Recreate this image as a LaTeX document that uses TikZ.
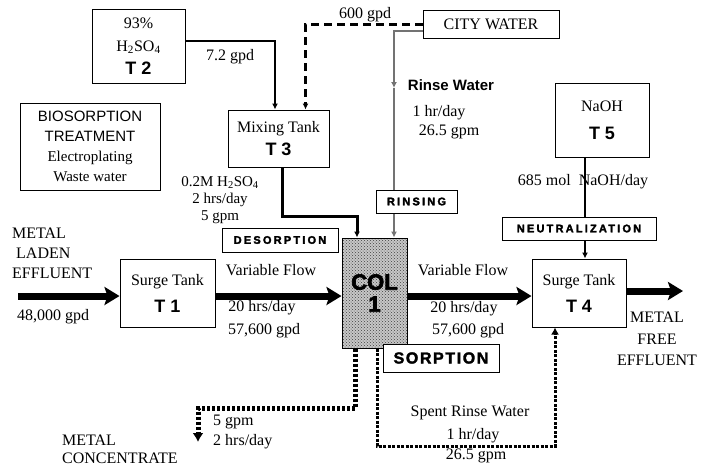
\documentclass[tikz,border=0pt]{standalone}
\usepackage{fontspec}
\setmainfont{Liberation Serif}
\setsansfont{Liberation Sans}
\newfontfamily\spacedsans[LetterSpace=20,FakeBold=2.5]{Liberation Sans Bold}
\newfontfamily\sorpfont[LetterSpace=10,FakeBold=2]{Liberation Sans Bold}
\newfontfamily\colfont[FakeBold=3]{Liberation Sans Bold}
\usetikzlibrary{arrows.meta,patterns,backgrounds}
\newcommand\tlab[1]{{\sffamily\bfseries\fontsize{18}{20}\selectfont #1}}
\tikzset{
  box/.style={draw, line width=1pt, fill=white, inner sep=0pt, align=center, font=\fontsize{16}{18}\selectfont},
  txt/.style={inner sep=0pt, font=\fontsize{16}{18}\selectfont},
  tag/.style={draw, line width=1pt, fill=white, inner sep=0pt, font=\spacedsans\fontsize{11}{12}\selectfont},
  smalltip/.style={-{Latex[length=6pt,width=6pt]}},
  bigflow/.style={line width=7pt, -{Stealth[length=15pt,width=18pt,inset=3pt]}},
  citydash/.style={line width=3pt, dash pattern=on 8pt off 5pt, smalltip},
  greyline/.style={line width=2pt, draw=black!55, -{Latex[length=6pt,width=6pt]}},
  concdot/.style={line width=5pt, dash pattern=on 3pt off 2pt, -{Latex[length=9pt,width=11pt]}},
  spentdot/.style={line width=3pt, dash pattern=on 3pt off 1.5pt, -{Latex[length=7pt,width=8pt]}},
}
\begin{document}
\begin{tikzpicture}[x=1pt,y=-1pt]
\useasboundingbox (0,0) rectangle (701,467);

% boxes
\node[box, minimum width=93pt, minimum height=74pt, font=\fontsize{16}{23}\selectfont] (T2) at (138.5,46) {93\%\\H\textsubscript{2}SO\textsubscript{4}\\\tlab{T 2}};
\node[box, minimum width=101pt, minimum height=57pt] (T3) at (278.5,138.5) {Mixing Tank\\[5pt]\tlab{T 3}};
\node[box, minimum width=136pt, minimum height=28pt] (CW) at (491,24) {CITY WATER};
\node[box, minimum width=140pt, minimum height=87pt, font=\fontsize{15}{20}\selectfont] (BIO) at (90,146.5) {\sffamily BIOSORPTION\\\sffamily TREATMENT\\Electroplating\\Waste water};
\node[box, minimum width=94pt, minimum height=74pt] (T5) at (602,120) {NaOH\\[10pt]\tlab{T 5}};
\node[tag, minimum width=154pt, minimum height=23pt] (NEU) at (579,228.5) {NEUTRALIZATION};
\node[tag, minimum width=81pt, minimum height=23pt] (RIN) at (416.5,201.5) {RINSING};
\node[tag, minimum width=116pt, minimum height=24pt] (DES) at (280,240) {DESORPTION};
\node[box, minimum width=95pt, minimum height=68pt] (T1) at (167.5,293) {Surge Tank\\[9pt]\tlab{T 1}};
\node[draw, line width=1pt, preaction={fill=black!22}, pattern=crosshatch dots, pattern color=black!75,
      minimum width=65pt, minimum height=110pt, inner sep=0pt, align=center,
      font=\colfont\fontsize{22}{22}\selectfont] (COL) at (374.5,293) {COL\\1};
\node[draw, line width=1pt, fill=white, inner sep=0pt, minimum width=116pt, minimum height=28pt,
      font=\sorpfont\fontsize{16}{18}\selectfont] (SOR) at (441,358) {SORPTION};

\node[box, minimum width=94pt, minimum height=68pt] (T4) at (579,293) {Surge Tank\\[9pt]\tlab{T 4}};

% labels
\node[txt] (l600) at (365,15) {600 gpd};
\node[txt] (l72) at (230,57) {7.2 gpd};
\node[txt, font=\sffamily\bfseries\fontsize{15}{17}\selectfont] (rw) at (451,85) {Rinse Water};
\node[txt] (rw1) at (439,113) {1 hr/day};
\node[txt] (rw2) at (449,132) {26.5 gpm};
\node[txt] (naoh) at (583,182) {685 mol\ \ NaOH/day};
\node[txt, align=center, font=\fontsize{15}{17}\selectfont] (acid) at (220,200) {0.2M H\textsubscript{2}SO\textsubscript{4}\\2 hrs/day\\5 gpm};
\node[txt, align=left, anchor=west, font=\fontsize{16}{20}\selectfont] (mle) at (12,253) {METAL\\\ LADEN\\EFFLUENT};
\node[txt] (l48) at (53,317) {48,000 gpd};
\node[txt] (vf1) at (271,270) {Variable Flow};
\node[txt] (h1) at (262,308) {20 hrs/day};
\node[txt] (g1l) at (264,331) {57,600 gpd};
\node[txt] (vf2) at (463,270) {Variable Flow};
\node[txt] (h2) at (464,309) {20 hrs/day};
\node[txt] (g2l) at (468,331) {57,600 gpd};
\node[txt, align=center, font=\fontsize{16}{21.5}\selectfont] (mfe) at (657,339) {METAL\\FREE\\EFFLUENT};
\node[txt] (srw) at (470,413) {Spent Rinse Water};
\node[txt] (srw1) at (473,436) {1 hr/day};
\node[txt] (srw2) at (476,456) {26.5 gpm};
\node[txt, anchor=west] (c5) at (213,422) {5 gpm};
\node[txt, anchor=west] (c2) at (213,442) {2 hrs/day};
\node[txt, align=left, anchor=west, font=\fontsize{16}{18}\selectfont] (mc) at (62,449) {METAL\\CONCENTRATE};

% coordinates
\coordinate (gx) at (394,31);
\coordinate (gmid) at (394,88);
\coordinate (dx) at (357,216);
\coordinate (nx) at (585,0);
\coordinate (inpt) at (18,296);
\coordinate (outpt) at (683,291);
\coordinate (mcc) at (198,408);
\coordinate (mce) at (198,442);
\coordinate (sp1) at (377,446);
\coordinate (sp2) at (555,446);

\begin{pgfonlayer}{background}
\draw[line width=2.5pt, smalltip] ([yshift=5pt]T2.east) -| ([xshift=-3.5pt]T3.north);
\draw[citydash] (CW.west) -| ([xshift=-24pt]T3.north east);
\draw[greyline] ([yshift=-7pt]CW.west) -- (gx) -- (gmid);
\draw[greyline] (gmid) -- (gx |- COL.north);
\draw[line width=3pt, smalltip] ([xshift=3.5pt]T3.south) |- (dx) -- (dx |- COL.north);
\draw[line width=2.5pt] (T5.south -| nx) -- (NEU.north -| nx);
\draw[line width=2pt, smalltip] (NEU.south -| nx) -- (T4.north -| nx);
\draw[bigflow] (inpt) -- (T1.west |- inpt);
\draw[bigflow] ([yshift=-3pt]T1.east) -- ([yshift=-3pt]COL.west);
\draw[bigflow] ([yshift=-3pt]COL.east) -- ([yshift=-3pt]T4.west);
\draw[bigflow] ([yshift=2pt]T4.east) -- (outpt);
\draw[concdot] ([xshift=-19.5pt]COL.south) |- (mcc) -- (mce);
\draw[spentdot] (sp1 |- COL.south) -- (sp1) -- (sp2) -- (sp2 |- T4.south);
\end{pgfonlayer}
\end{tikzpicture}
\end{document}
